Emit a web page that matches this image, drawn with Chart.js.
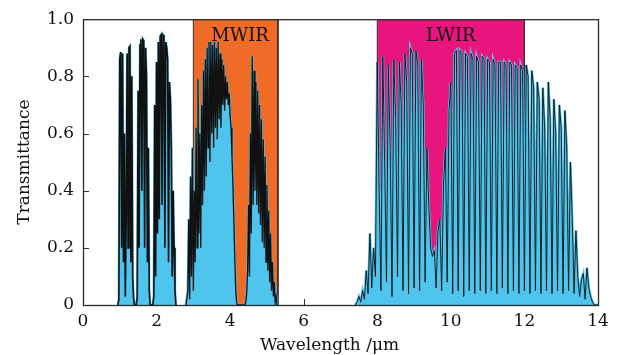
<!DOCTYPE html>
<html>
<head>
<meta charset="utf-8">
<script src="https://cdn.jsdelivr.net/npm/chart.js@4.4.0/dist/chart.umd.min.js"></script>
<style>
  html, body { margin: 0; padding: 0; background: #fff; }
  canvas { display: block; }
</style>
</head>
<body>
<canvas id="chart" width="623" height="355"></canvas>
<script>
// transmittance in three windows, each sampled on a regular wavelength grid (µm)
const nirStart = 0.95, nirStep = 0.025;
const nirT = [0, 0.02, 0.86, 0.885, 0.20, 0.88, 0.15, 0.60, 0.03, 0.30,
  0.88, 0.20, 0.90, 0.905, 0.15, 0.80, 0.10, 0.02, 0, 0,
  0, 0.03, 0.75, 0.20, 0.91, 0.93, 0.40, 0.93, 0.925, 0.20,
  0.90, 0.80, 0.15, 0.55, 0.05, 0, 0, 0, 0, 0.03,
  0.70, 0.10, 0.85, 0.25, 0.92, 0.30, 0.94, 0.945, 0.35, 0.945,
  0.94, 0.20, 0.92, 0.90, 0.86, 0.15, 0.78, 0.72, 0.55, 0.10,
  0.40, 0.20, 0.05, 0, 0];

const mwStart = 2.8, mwStep = 0.025;
const mwT = [0, 0, 0.05, 0.30, 0.02, 0.45, 0.10, 0.55, 0.05, 0.40,
  0.15, 0.62, 0.20, 0.79, 0.25, 0.60, 0.20, 0.70, 0.35, 0.82,
  0.40, 0.86, 0.45, 0.90, 0.55, 0.92, 0.50, 0.92, 0.60, 0.91,
  0.55, 0.92, 0.62, 0.90, 0.58, 0.92, 0.65, 0.88, 0.62, 0.86,
  0.70, 0.84, 0.68, 0.80, 0.72, 0.78, 0.70, 0.74, 0.66, 0.62,
  0.52, 0.42, 0.30, 0.17, 0.06, 0.01, 0, 0, 0, 0,
  0, 0, 0, 0, 0, 0.01, 0.04, 0.12, 0.35, 0.10,
  0.60, 0.25, 0.87, 0.35, 0.82, 0.40, 0.78, 0.35, 0.75, 0.32,
  0.70, 0.28, 0.65, 0.22, 0.58, 0.20, 0.52, 0.15, 0.42, 0.12,
  0.33, 0.08, 0.25, 0.05, 0.15, 0.03, 0.08, 0.01, 0.03, 0, 0];

const lwStart = 7.4, lwStep = 0.05;
const lwT = [0, 0.01, 0.03, 0.01, 0.05, 0.02, 0.12, 0.04, 0.25, 0.06,
  0.20, 0.10, 0.85, 0.40, 0.05, 0.87, 0.50, 0.08, 0.84, 0.55,
  0.03, 0.86, 0.65, 0.10, 0.85, 0.70, 0.05, 0.88, 0.78, 0.04,
  0.90, 0.88, 0.06, 0.89, 0.84, 0.05, 0.86, 0.70, 0.08, 0.55,
  0.35, 0.20, 0.17, 0.19, 0.06, 0.26, 0.30, 0.05, 0.42, 0.55,
  0.08, 0.68, 0.78, 0.04, 0.88, 0.89, 0.05, 0.89, 0.88, 0.03,
  0.88, 0.87, 0.05, 0.88, 0.86, 0.04, 0.87, 0.85, 0.05, 0.87,
  0.86, 0.04, 0.86, 0.85, 0.05, 0.86, 0.84, 0.04, 0.85, 0.85,
  0.06, 0.85, 0.84, 0.04, 0.85, 0.84, 0.05, 0.84, 0.83, 0.04,
  0.84, 0.82, 0.05, 0.84, 0.80, 0.04, 0.82, 0.76, 0.05, 0.78,
  0.72, 0.04, 0.76, 0.62, 0.05, 0.78, 0.65, 0.04, 0.72, 0.60,
  0.05, 0.70, 0.62, 0.04, 0.68, 0.55, 0.05, 0.50, 0.30, 0.04,
  0.26, 0.10, 0.03, 0.09, 0.11, 0.02, 0.13, 0.06, 0.03, 0.01,
  0, 0, 0];

// infrared bands shaded behind the spectrum
const bandNames = ['MWIR', 'LWIR'];
const bandFrom = [3, 8];
const bandTo = [5.3, 12];
const bandColors = ['#f06c26', '#e8157e'];

const xTicks = [0, 2, 4, 6, 8, 10, 12, 14];
const yTicks = [0, 0.2, 0.4, 0.6, 0.8, 1.0];

const FILL = '#4fc4ec';
const FONT = "'DejaVu Serif', 'Liberation Serif', serif";
const lineWidths = [1.6, 1.3, 0.9];

function toPoints(start, step, values) {
  return values.map((t, i) => ({ x: +(start + i * step).toFixed(3), y: t }));
}

const windows = [
  toPoints(nirStart, nirStep, nirT),
  toPoints(mwStart, mwStep, mwT),
  toPoints(lwStart, lwStep, lwT)
];

const datasets = [];
bandNames.forEach((name, i) => {
  datasets.push({
    label: name,
    data: [{ x: bandFrom[i], y: 0 }, { x: bandFrom[i], y: 1 }, { x: bandTo[i], y: 1 }, { x: bandTo[i], y: 0 }],
    backgroundColor: bandColors[i], borderColor: '#3a2a2a', borderWidth: 1,
    fill: 'origin', pointRadius: 0, order: 3
  });
});
windows.forEach((pts, i) => {
  // blue body, wide stroke closes the narrow line notches
  datasets.push({ data: pts, backgroundColor: FILL, borderColor: FILL, borderWidth: 2.5,
    fill: 'origin', pointRadius: 0, order: 2 });
  // absorption structure in black
  datasets.push({ data: pts, borderColor: '#111', borderWidth: lineWidths[i], fill: false,
    pointRadius: 0, order: 1 });
});

const framePlugin = {
  id: 'frame',
  beforeDatasetsDraw(chart) {
    const { ctx, chartArea: a, scales: { x, y } } = chart;
    ctx.save();
    ctx.strokeStyle = '#333';
    ctx.lineWidth = 1;
    ctx.beginPath();
    xTicks.forEach(v => {
      const px = Math.round(x.getPixelForValue(v)) + 0.5;
      ctx.moveTo(px, a.bottom); ctx.lineTo(px, a.bottom - 6);
    });
    yTicks.forEach(v => {
      const py = Math.round(y.getPixelForValue(v)) + 0.5;
      ctx.moveTo(a.left, py); ctx.lineTo(a.left + 6, py);
    });
    ctx.stroke();
    ctx.restore();
  },
  afterDatasetsDraw(chart) {
    const { ctx, chartArea: a, scales: { x, y } } = chart;
    ctx.save();
    ctx.strokeStyle = '#2a2a2a';
    ctx.lineWidth = 1.3;
    ctx.strokeRect(a.left + 0.5, a.top + 0.5, a.right - a.left, a.bottom - a.top);
    ctx.fillStyle = '#111';
    ctx.font = '18px ' + FONT;
    ctx.textAlign = 'center';
    ctx.textBaseline = 'alphabetic';
    bandNames.forEach((name, i) => {
      const mid = (bandFrom[i] + bandTo[i]) / 2 + (i === 0 ? 0.12 : 0);
      ctx.fillText(name, x.getPixelForValue(mid), y.getPixelForValue(0.925));
    });
    // x axis title, sits a little left of the plot centre
    ctx.font = '17px ' + FONT;
    ctx.fillText('Wavelength /μm', (a.left + a.right) / 2 - 11, chart.height - 5);
    ctx.restore();
  }
};

new Chart(document.getElementById('chart'), {
  type: 'line',
  data: { datasets },
  options: {
    responsive: false,
    animation: false,
    devicePixelRatio: 1,
    layout: { padding: { top: 16, right: 25, left: 0, bottom: 0 } },
    plugins: { legend: { display: false }, tooltip: { enabled: false } },
    elements: { line: { tension: 0 } },
    scales: {
      x: {
        type: 'linear', min: 0, max: 14,
        afterBuildTicks: s => { s.ticks = xTicks.map(v => ({ value: v })); },
        afterFit: s => { s.height = 50; },
        grid: { display: false, drawTicks: false },
        border: { display: false },
        ticks: { color: '#111', padding: 6, maxRotation: 0, font: { family: FONT, size: 17 } },
        title: { display: false }
      },
      y: {
        type: 'linear', min: 0, max: 1,
        afterBuildTicks: s => { s.ticks = yTicks.map(v => ({ value: v })); },
        afterFit: s => { s.width = 83; },
        grid: { display: false, drawTicks: false },
        border: { display: false },
        ticks: { color: '#111', padding: 9, font: { family: FONT, size: 17 },
          callback: v => v === 0 ? '0' : v.toFixed(1) },
        title: { display: true, text: 'Transmittance', color: '#111',
          font: { family: FONT, size: 17, lineHeight: 1 }, padding: { top: 16, bottom: 0 } }
      }
    }
  },
  plugins: [framePlugin]
});
</script>
</body>
</html>
